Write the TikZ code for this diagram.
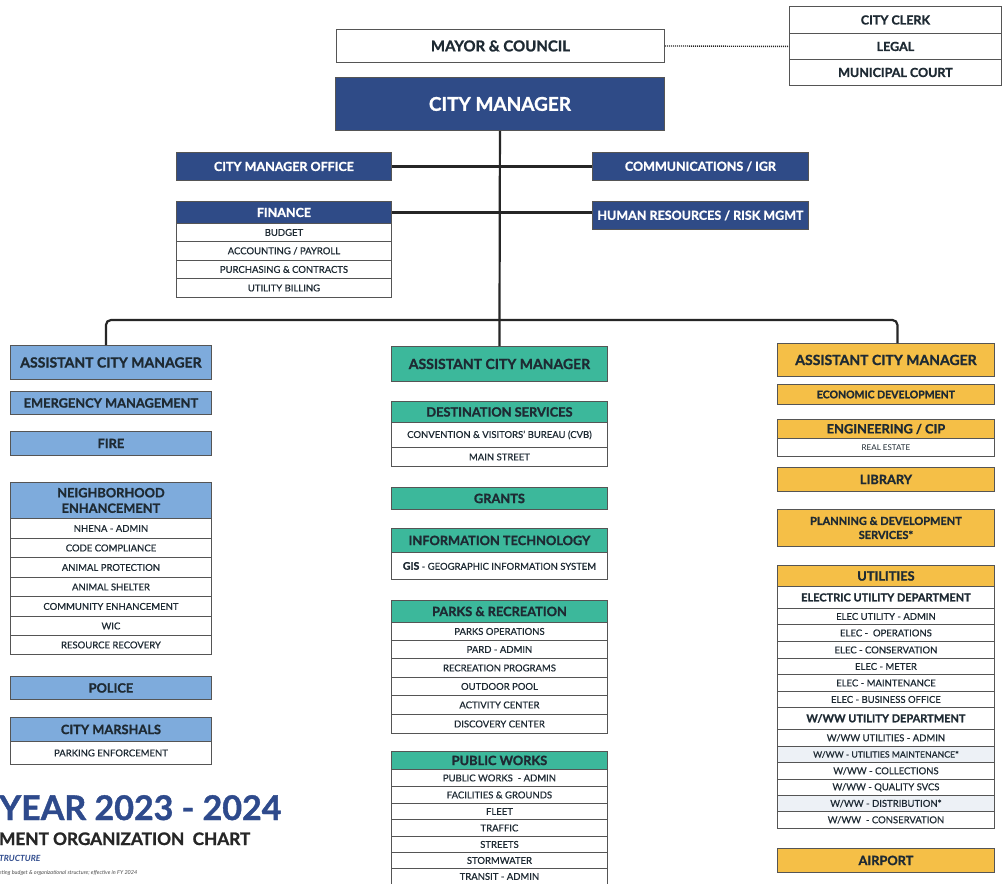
\documentclass[tikz,border=0pt]{standalone}
\usepackage{fontspec}
\setmainfont{Lato}[BoldFeatures={FakeBold=1.2}]
\usetikzlibrary{calc}
\definecolor{dblue}{HTML}{2F4B87}
\definecolor{lblue}{HTML}{7EABDC}
\definecolor{tealc}{HTML}{3CB89B}
\definecolor{yell}{HTML}{F5BF47}
\definecolor{bordc}{HTML}{555555}
\definecolor{txtd}{HTML}{1E2A33}
\definecolor{hlc}{HTML}{EDF1F6}
\definecolor{titleblue}{HTML}{2E4A8C}
\newcommand\cmF{\bfseries\fontsize{19}{20}\selectfont}
\newcommand\mcF{\bfseries\fontsize{15}{16}\selectfont}
\newcommand\clF{\bfseries\fontsize{12.5}{13}\selectfont}
\newcommand\hdF{\bfseries\fontsize{12.5}{13}\selectfont}
\newcommand\acF{\bfseries\fontsize{14}{15}\selectfont}
\newcommand\sbF{\bfseries\fontsize{12.8}{15.5}\selectfont}
\newcommand\rwF{\fontsize{9.5}{10}\selectfont\addfontfeature{FakeBold=0.6}}
\newcommand\edF{\bfseries\fontsize{10.5}{13.5}\selectfont}
\newcommand\B[7]{\node[#1,minimum width=#5pt,minimum height=#6pt] (#2) at (#3,#4) {#7};}
\begin{document}
\begin{tikzpicture}[x=1pt,y=-1pt,
  box/.style={draw=bordc,line width=0.9pt,inner sep=0pt,anchor=north west,align=center,text=txtd},
  dbl/.style={box,fill=dblue,text=white},
  lbl/.style={box,fill=lblue},
  tel/.style={box,fill=tealc},
  yel/.style={box,fill=yell},
  row/.style={box,fill=white,font=\rwF},
  hl/.style={row,fill=hlc},
  conn/.style={draw=black!85,line width=2.2pt}]
\useasboundingbox[fill=white] (0,0) rectangle (1002,884);
% top
\B{row,font=\mcF}{mc}{336}{29}{328}{33}{MAYOR \& COUNCIL}
\B{row,font=\clF}{clerk}{789}{6}{212}{27}{CITY CLERK}
\B{row,font=\clF}{legal}{789}{33}{212}{26}{LEGAL}
\B{row,font=\clF}{court}{789}{59}{212}{26}{MUNICIPAL COURT}
\B{dbl,font=\cmF}{cm}{335}{77}{329}{53}{CITY MANAGER}
\B{dbl,font=\hdF}{cmo}{176}{152}{215}{28}{CITY MANAGER OFFICE}
\B{dbl,font=\hdF}{comm}{592}{152}{216}{28}{COMMUNICATIONS / IGR}
\B{dbl,font=\hdF}{fin}{176}{201}{215}{22}{FINANCE}
\B{row}{fina}{176}{223}{215}{18}{BUDGET}
\B{row}{finb}{176}{241}{215}{19}{ACCOUNTING / PAYROLL}
\B{row}{finc}{176}{260}{215}{18}{PURCHASING \& CONTRACTS}
\B{row}{find}{176}{278}{215}{19}{UTILITY BILLING}
\B{dbl,font=\hdF}{hr}{592}{201}{216}{28}{HUMAN RESOURCES / RISK MGMT}
% left column
\B{lbl,font=\acF}{accL}{10}{345}{201}{34}{ASSISTANT CITY MANAGER}
\B{lbl,font=\sbF}{em}{10}{391}{201}{23}{EMERGENCY MANAGEMENT}
\B{lbl,font=\sbF}{fire}{10}{431}{201}{24}{FIRE}
\B{lbl,font=\sbF}{nh}{10}{482}{201}{36}{NEIGHBORHOOD\\ENHANCEMENT}
\B{row}{nha}{10}{518}{201}{20}{NHENA - ADMIN}
\B{row}{nhb}{10}{538}{201}{19}{CODE COMPLIANCE}
\B{row}{nhc}{10}{557}{201}{20}{ANIMAL PROTECTION}
\B{row}{nhd}{10}{577}{201}{19}{ANIMAL SHELTER}
\B{row}{nhe}{10}{596}{201}{20}{COMMUNITY ENHANCEMENT}
\B{row}{nhf}{10}{616}{201}{19}{WIC}
\B{row}{nhg}{10}{635}{201}{19}{RESOURCE RECOVERY}
\B{lbl,font=\sbF}{police}{10}{676}{201}{23}{POLICE}
\B{lbl,font=\sbF}{mar}{10}{717}{201}{24}{CITY MARSHALS}
\B{row}{park}{10}{741}{201}{23}{PARKING ENFORCEMENT}
% middle column
\B{tel,font=\acF}{accM}{391}{346}{216}{35}{ASSISTANT CITY MANAGER}
\B{tel,font=\sbF}{ds}{391}{401}{216}{21}{DESTINATION SERVICES}
\B{row}{cvb}{391}{422}{216}{25}{CONVENTION \& VISITORS' BUREAU (CVB)}
\B{row}{ms}{391}{447}{216}{19}{MAIN STREET}
\B{tel,font=\sbF}{grants}{391}{487}{216}{22}{GRANTS}
\B{tel,font=\sbF}{it}{391}{528}{216}{24}{INFORMATION TECHNOLOGY}
\B{row}{gis}{391}{552}{216}{27}{{\bfseries\fontsize{10.5}{11}\selectfont GIS} - GEOGRAPHIC INFORMATION SYSTEM}
\B{tel,font=\sbF}{pr}{391}{600}{216}{22}{PARKS \& RECREATION}
\B{row}{pra}{391}{622}{216}{18}{PARKS OPERATIONS}
\B{row}{prb}{391}{640}{216}{18}{PARD - ADMIN}
\B{row}{prc}{391}{658}{216}{19}{RECREATION PROGRAMS}
\B{row}{prd}{391}{677}{216}{18}{OUTDOOR POOL}
\B{row}{pre}{391}{695}{216}{19}{ACTIVITY CENTER}
\B{row}{prf}{391}{714}{216}{19}{DISCOVERY CENTER}
\B{tel,font=\sbF}{pw}{391}{751}{216}{18}{PUBLIC WORKS}
\B{row}{pwa}{391}{769}{216}{17}{PUBLIC WORKS\ \ - ADMIN}
\B{row}{pwb}{391}{786}{216}{17}{FACILITIES \& GROUNDS}
\B{row}{pwc}{391}{803}{216}{16}{FLEET}
\B{row}{pwd}{391}{819}{216}{17}{TRAFFIC}
\B{row}{pwe}{391}{836}{216}{16}{STREETS}
\B{row}{pwf}{391}{852}{216}{16}{STORMWATER}
\B{row}{pwg}{391}{868}{216}{16}{TRANSIT - ADMIN}
% right column
\B{yel,font=\acF}{accR}{777}{343}{217}{33}{ASSISTANT CITY MANAGER}
\B{yel,font=\edF}{ed}{777}{384}{217}{20}{ECONOMIC DEVELOPMENT}
\B{yel,font=\sbF}{eng}{777}{419}{217}{19}{ENGINEERING / CIP}
\B{row,font=\fontsize{8}{9}\selectfont}{re}{777}{438}{217}{18}{REAL ESTATE}
\B{yel,font=\sbF}{lib}{777}{467}{217}{24}{LIBRARY}
\B{yel,font=\bfseries\fontsize{11}{14}\selectfont}{pds}{777}{509}{217}{37}{PLANNING \& DEVELOPMENT\\SERVICES*}
\B{yel,font=\sbF}{ut}{777}{565}{217}{21}{UTILITIES}
\B{row,font=\bfseries\fontsize{11}{12}\selectfont}{eud}{777}{586}{217}{22}{ELECTRIC UTILITY DEPARTMENT}
\B{row}{ea}{777}{608}{217}{16}{ELEC UTILITY - ADMIN}
\B{row}{eb}{777}{624}{217}{17}{ELEC -\ \ OPERATIONS}
\B{row}{ec}{777}{641}{217}{17}{ELEC - CONSERVATION}
\B{row}{edm}{777}{658}{217}{16}{ELEC - METER}
\B{row}{ee}{777}{674}{217}{17}{ELEC - MAINTENANCE}
\B{row}{ef}{777}{691}{217}{16}{ELEC - BUSINESS OFFICE}
\B{row,font=\bfseries\fontsize{11}{12}\selectfont}{wud}{777}{707}{217}{22}{W/WW UTILITY DEPARTMENT}
\B{row}{wa}{777}{729}{217}{17}{W/WW UTILITIES - ADMIN}
\B{hl,font=\fontsize{8.7}{9}\selectfont\addfontfeature{FakeBold=0.6}}{wb}{777}{746}{217}{16}{W/WW - UTILITIES MAINTENANCE*}
\B{row}{wc}{777}{762}{217}{17}{W/WW - COLLECTIONS}
\B{row}{wd}{777}{779}{217}{16}{W/WW - QUALITY SVCS}
\B{hl}{we}{777}{795}{217}{16}{W/WW - DISTRIBUTION*}
\B{row}{wf}{777}{811}{217}{17}{W/WW\ \ - CONSERVATION}
\B{yel,font=\sbF}{air}{777}{848}{217}{24}{AIRPORT}
% connectors
\coordinate (bus) at (499,320);
\coordinate (lt) at ($(accL.north)+(-5,0)$);
\coordinate (rt) at ($(accR.north)+(11.5,0)$);
\draw[conn] (cm.south) -- (accM.north);
\draw[conn,rounded corners=5pt] (lt) |- (bus) -| (rt);
\draw[conn] (cmo.east) -- (comm.west);
\draw[conn] (fin.east) -- (fin.east -| hr.west);
\draw[line width=1.4pt,black!85,dash pattern=on 1pt off 1pt] (mc.east) -- (legal.west);
% title
\node[anchor=base west,inner sep=0,text=titleblue,font=\bfseries\fontsize{34}{36}\selectfont] (t1) at (-1,820) {YEAR 2023 - 2024};
\node[anchor=base west,inner sep=0,text=black!85,font=\bfseries\fontsize{17.2}{18}\selectfont] (t2) at (-1,845) {MENT ORGANIZATION\ \ CHART};
\node[anchor=base west,inner sep=0,text=titleblue,font=\bfseries\itshape\fontsize{8.5}{9}\selectfont] (t3) at (-1,861) {TRUCTURE};
\node[anchor=base west,inner sep=0,text=black!70,font=\itshape\fontsize{5.5}{6}\selectfont] (t4) at (-1,874) {eting budget \& organizational structure; effective in FY 2024};
\end{tikzpicture}
\end{document}
